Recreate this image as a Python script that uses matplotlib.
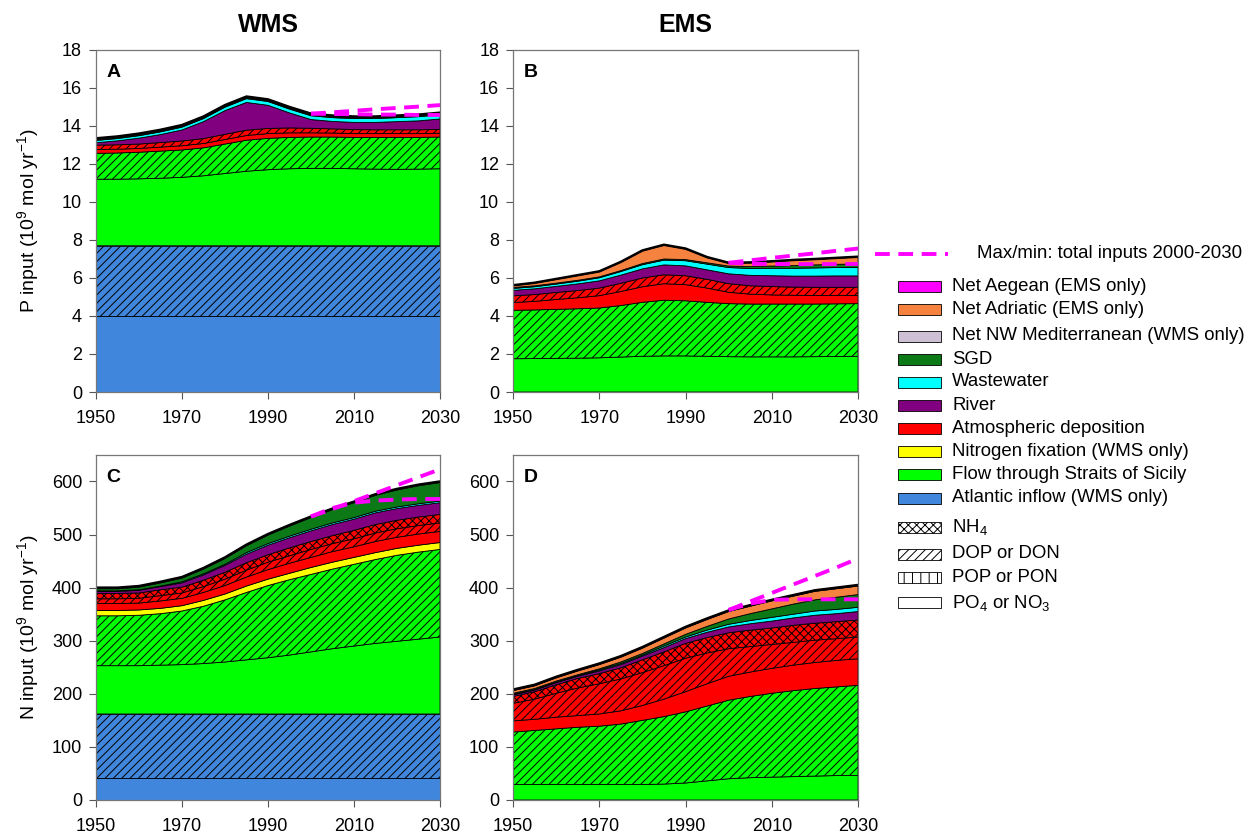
import numpy as np
import matplotlib
matplotlib.use('Agg')
import matplotlib.pyplot as plt
from matplotlib.patches import Rectangle

plt.rcParams['font.family'] = ['Liberation Sans', 'DejaVu Sans']
plt.rcParams['mathtext.fontset'] = 'custom'
plt.rcParams['mathtext.rm'] = 'Liberation Sans'
plt.rcParams['mathtext.it'] = 'Liberation Sans:italic'
plt.rcParams['hatch.linewidth'] = 0.7

years = [1950, 1955, 1960, 1965, 1970, 1975, 1980, 1985, 1990, 1995,
         2000, 2005, 2010, 2015, 2020, 2025, 2030]
proj_years = [2000, 2005, 2010, 2015, 2020, 2025, 2030]

# ---- WMS phosphorus (A), 10^9 mol/yr ----
atl_a_po4 = [4.0, 4.0, 4.0, 4.0, 4.0, 4.0, 4.0, 4.0, 4.0, 4.0, 4.0, 4.0, 4.0, 4.0, 4.0, 4.0, 4.0]
atl_a_dop = [3.7, 3.7, 3.7, 3.7, 3.7, 3.7, 3.7, 3.7, 3.7, 3.7, 3.7, 3.7, 3.7, 3.7, 3.7, 3.7, 3.7]
sic_a_po4 = [3.5, 3.5, 3.52, 3.55, 3.6, 3.68, 3.8, 3.92, 4.0, 4.05, 4.07, 4.07, 4.05, 4.03, 4.02, 4.03, 4.05]
sic_a_dop = [1.36, 1.38, 1.40, 1.43, 1.44, 1.47, 1.55, 1.63, 1.65, 1.65, 1.65, 1.65, 1.65, 1.67, 1.68, 1.67, 1.67]
atm_a_po4 = [0.2, 0.2, 0.2, 0.21, 0.22, 0.23, 0.24, 0.25, 0.25, 0.24, 0.22, 0.21, 0.2, 0.2, 0.2, 0.2, 0.2]
atm_a_dop = [0.23, 0.23, 0.23, 0.24, 0.25, 0.26, 0.27, 0.28, 0.27, 0.26, 0.24, 0.22, 0.21, 0.2, 0.2, 0.2, 0.2]
riv_a = [0.13, 0.21, 0.31, 0.42, 0.58, 0.89, 1.25, 1.46, 1.22, 0.79, 0.46, 0.39, 0.38, 0.39, 0.43, 0.47, 0.55]
ww_a = [0.12, 0.12, 0.13, 0.14, 0.15, 0.16, 0.18, 0.2, 0.2, 0.2, 0.2, 0.2, 0.2, 0.2, 0.21, 0.22, 0.22]
sgd_a = [0.05, 0.05, 0.05, 0.05, 0.05, 0.05, 0.05, 0.05, 0.05, 0.05, 0.05, 0.05, 0.05, 0.05, 0.05, 0.05, 0.05]
nwm_a = [0.06, 0.06, 0.06, 0.06, 0.06, 0.06, 0.06, 0.06, 0.06, 0.06, 0.06, 0.06, 0.06, 0.06, 0.06, 0.06, 0.06]
max_a = [14.65, 14.72, 14.8, 14.88, 14.95, 15.02, 15.1]
min_a = [14.65, 14.63, 14.62, 14.6, 14.6, 14.58, 14.58]

# ---- EMS phosphorus (B) ----
sic_b_po4 = [1.75, 1.76, 1.77, 1.78, 1.8, 1.84, 1.88, 1.9, 1.9, 1.88, 1.86, 1.85, 1.85, 1.85, 1.86, 1.87, 1.88]
sic_b_dop = [2.55, 2.56, 2.58, 2.6, 2.62, 2.71, 2.84, 2.93, 2.9, 2.84, 2.79, 2.78, 2.78, 2.78, 2.77, 2.77, 2.77]
atm_b_po4 = [0.41, 0.45, 0.52, 0.58, 0.65, 0.74, 0.82, 0.87, 0.85, 0.75, 0.6, 0.52, 0.48, 0.46, 0.45, 0.44, 0.43]
atm_b_dop = [0.35, 0.36, 0.37, 0.38, 0.4, 0.43, 0.46, 0.47, 0.47, 0.46, 0.45, 0.44, 0.44, 0.43, 0.43, 0.43, 0.43]
riv_b = [0.29, 0.3, 0.32, 0.35, 0.38, 0.43, 0.48, 0.52, 0.52, 0.5, 0.52, 0.55, 0.57, 0.58, 0.59, 0.6, 0.6]
ww_b = [0.1, 0.11, 0.12, 0.14, 0.16, 0.19, 0.22, 0.25, 0.27, 0.3, 0.33, 0.36, 0.39, 0.41, 0.43, 0.44, 0.45]
sgd_b = [0.05, 0.05, 0.05, 0.05, 0.05, 0.05, 0.06, 0.06, 0.06, 0.07, 0.08, 0.1, 0.12, 0.14, 0.16, 0.17, 0.18]
adr_b = [0.10, 0.14, 0.20, 0.25, 0.27, 0.44, 0.67, 0.73, 0.56, 0.28, 0.15, 0.20, 0.23, 0.28, 0.29, 0.32, 0.36]
aeg_b = [0.02, 0.02, 0.02, 0.02, 0.02, 0.02, 0.02, 0.02, 0.02, 0.02, 0.02, 0.02, 0.02, 0.02, 0.02, 0.02, 0.02]
max_b = [6.8, 6.93, 7.06, 7.18, 7.3, 7.43, 7.55]
min_b = [6.8, 6.75, 6.74, 6.73, 6.73, 6.73, 6.74]

# ---- WMS nitrogen (C) ----
atl_c_no3 = [42, 42, 42, 42, 42, 42, 42, 42, 42, 42, 42, 42, 42, 42, 42, 42, 42]
atl_c_don = [120, 120, 120, 120, 120, 120, 120, 120, 120, 120, 120, 120, 120, 120, 120, 120, 120]
sic_c_no3 = [91, 91, 91, 92, 93, 95, 98, 102, 106, 111, 117, 123, 128, 133, 137, 141, 145]
sic_c_don = [94, 94, 95, 97, 101, 108, 117, 127, 136, 142, 146, 150, 154, 158, 162, 164, 165]
fix_c = [10, 10, 10, 10, 10, 11, 11, 12, 12, 12, 13, 13, 13, 13, 13, 13, 13]
atm_c_no3 = [13, 13, 13, 14, 14, 15, 16, 17, 18, 19, 19, 20, 20, 21, 21, 21, 21]
atm_c_don = [9, 9, 9, 10, 10, 11, 12, 13, 14, 14, 15, 15, 15, 16, 16, 16, 16]
atm_c_nh4 = [10, 10, 10, 11, 11, 12, 13, 14, 14, 15, 15, 15, 16, 16, 16, 16, 16]
riv_c = [4, 4, 5, 6, 8, 10, 13, 16, 18, 19, 20, 21, 21, 22, 22, 22, 22]
ww_c = [1, 1, 1, 1, 2, 2, 2, 3, 3, 3, 3, 3, 3, 3, 3, 3, 3]
sgd_c = [4, 4, 5, 6, 7, 9, 11, 13, 16, 19, 22, 25, 28, 30, 32, 34, 35]
nwm_c = [2, 2, 2, 2, 2, 2, 2, 2, 2, 2, 2, 2, 2, 2, 2, 2, 2]
max_c = [534, 548, 563, 578, 593, 608, 623]
min_c = [534, 550, 560, 564, 566, 567, 567]

# ---- EMS nitrogen (D) ----
sic_d_no3 = [29, 29, 29, 29, 29, 29, 29, 30, 32, 36, 40, 42, 43, 44, 45, 46, 46]
sic_d_don = [99, 102, 105, 108, 110, 114, 121, 127, 134, 141, 148, 153, 158, 162, 165, 167, 170]
atm_d_no3 = [21, 21, 22, 22, 23, 25, 28, 33, 38, 42, 45, 46, 47, 48, 49, 50, 50]
atm_d_don = [33, 38, 45, 52, 57, 60, 62, 63, 63, 58, 52, 48, 45, 43, 42, 41, 41]
atm_d_nh4 = [13, 14, 16, 18, 19, 21, 24, 26, 28, 29, 30, 31, 31, 32, 32, 32, 32]
riv_d = [3, 3, 4, 4, 5, 6, 7, 8, 9, 10, 11, 12, 13, 14, 15, 15, 16]
ww_d = [1, 1, 1, 1, 2, 2, 2, 3, 3, 4, 5, 6, 7, 7, 8, 8, 8]
sgd_d = [2, 2, 2, 2, 2, 3, 3, 4, 5, 7, 10, 13, 16, 19, 21, 23, 24]
adr_d = [5, 5, 6, 7, 8, 9, 10, 11, 12, 13, 14, 14, 15, 15, 16, 16, 16]
aeg_d = [2, 2, 2, 2, 2, 2, 2, 2, 2, 2, 2, 2, 2, 2, 2, 2, 2]
max_d = [358, 374, 390, 406, 422, 438, 455]
min_d = [358, 370, 377, 378, 378, 378, 378]

# colours of the sources
c_aeg = '#FF00FF'
c_adr = '#F5823F'
c_nwm = '#CDBFD4'
c_sgd = '#0B7A16'
c_ww = '#00FFFF'
c_riv = '#800080'
c_atm = '#FF0000'
c_fix = '#FFFF00'
c_sic = '#00FF00'
c_atl = '#3F86DC'

# hatches: plain = PO4/NO3, '////' = DOP/DON, 'xxxx' = NH4
layers_a = [(atl_a_po4, c_atl, ''), (atl_a_dop, c_atl, '////'),
            (sic_a_po4, c_sic, ''), (sic_a_dop, c_sic, '////'),
            (atm_a_po4, c_atm, ''), (atm_a_dop, c_atm, '////'),
            (riv_a, c_riv, ''), (ww_a, c_ww, ''), (sgd_a, c_sgd, ''), (nwm_a, c_nwm, '')]
layers_b = [(sic_b_po4, c_sic, ''), (sic_b_dop, c_sic, '////'),
            (atm_b_po4, c_atm, ''), (atm_b_dop, c_atm, '////'),
            (riv_b, c_riv, ''), (ww_b, c_ww, ''), (sgd_b, c_sgd, ''),
            (adr_b, c_adr, ''), (aeg_b, c_aeg, '')]
layers_c = [(atl_c_no3, c_atl, ''), (atl_c_don, c_atl, '////'),
            (sic_c_no3, c_sic, ''), (sic_c_don, c_sic, '////'), (fix_c, c_fix, ''),
            (atm_c_no3, c_atm, ''), (atm_c_don, c_atm, '////'), (atm_c_nh4, c_atm, 'xxxx'),
            (riv_c, c_riv, ''), (ww_c, c_ww, ''), (sgd_c, c_sgd, ''), (nwm_c, c_nwm, '')]
layers_d = [(sic_d_no3, c_sic, ''), (sic_d_don, c_sic, '////'),
            (atm_d_no3, c_atm, ''), (atm_d_don, c_atm, '////'), (atm_d_nh4, c_atm, 'xxxx'),
            (riv_d, c_riv, ''), (ww_d, c_ww, ''), (sgd_d, c_sgd, ''),
            (adr_d, c_adr, ''), (aeg_d, c_aeg, '')]


def draw_stack(ax, layers, mx, mn):
    base = np.zeros(len(years))
    for vals, color, hatch in layers:
        top = base + np.array(vals)
        ax.fill_between(years, base, top, facecolor=color, edgecolor='black',
                        hatch=hatch, linewidth=0.6)
        base = top
    ax.plot(years, base, color='black', lw=1.8)
    ax.plot(proj_years, mx, color='#FF00FF', lw=2.8, dashes=(3.8, 2.2))
    ax.plot(proj_years, mn, color='#FF00FF', lw=2.8, dashes=(3.8, 2.2))


def style(ax, ymax, yticks, letter):
    ax.set_xlim(1950, 2030)
    ax.set_ylim(0, ymax)
    ax.set_xticks([1950, 1970, 1990, 2010, 2030])
    ax.set_yticks(yticks)
    ax.tick_params(direction='out', length=5, width=0.8, color='#555555', labelsize=13)
    ax.tick_params(axis='x', pad=8)
    ax.tick_params(axis='y', pad=5)
    for s in ax.spines.values():
        s.set_color('#777777')
        s.set_linewidth(0.9)
    ax.text(0.03, 0.958, letter, transform=ax.transAxes, fontsize=14,
            fontweight='bold', va='top', ha='left')


fig = plt.figure(figsize=(12.55, 8.36), dpi=100)
ax_a = fig.add_axes([0.0765, 0.5311, 0.2741, 0.4091])
ax_b = fig.add_axes([0.4088, 0.5311, 0.2749, 0.4091])
ax_c = fig.add_axes([0.0765, 0.0431, 0.2741, 0.4127])
ax_d = fig.add_axes([0.4088, 0.0431, 0.2749, 0.4127])

draw_stack(ax_a, layers_a, max_a, min_a)
draw_stack(ax_b, layers_b, max_b, min_b)
draw_stack(ax_c, layers_c, max_c, min_c)
draw_stack(ax_d, layers_d, max_d, min_d)

style(ax_a, 18, range(0, 19, 2), 'A')
style(ax_b, 18, range(0, 19, 2), 'B')
style(ax_c, 650, range(0, 601, 100), 'C')
style(ax_d, 650, range(0, 601, 100), 'D')

ax_a.set_ylabel('P input (10$^9$ mol yr$^{-1}$)', fontsize=14)
ax_c.set_ylabel('N input (10$^9$ mol yr$^{-1}$)', fontsize=14)
ax_a.yaxis.set_label_coords(-0.16, 0.5)
ax_c.yaxis.set_label_coords(-0.16, 0.5)

fig.text(268 / 1255, 1 - 25 / 836, 'WMS', ha='center', va='center', fontsize=18, fontweight='bold')
fig.text(685 / 1255, 1 - 25 / 836, 'EMS', ha='center', va='center', fontsize=18, fontweight='bold')

# legend drawn by hand in pixel coordinates
lax = fig.add_axes([0, 0, 1, 1])
lax.set_xlim(0, 1255)
lax.set_ylim(836, 0)
lax.axis('off')

lax.plot([875, 948], [254, 254], color='#FF00FF', lw=2.8, dashes=(3.8, 2.2))
lax.text(977, 254, 'Max/min: total inputs 2000-2030', fontsize=13.4, va='center')

leg_labels = ['Net Aegean (EMS only)', 'Net Adriatic (EMS only)', 'Net NW Mediterranean (WMS only)',
              'SGD', 'Wastewater', 'River', 'Atmospheric deposition', 'Nitrogen fixation (WMS only)',
              'Flow through Straits of Sicily', 'Atlantic inflow (WMS only)',
              'NH$_4$', 'DOP or DON', 'POP or PON', 'PO$_4$ or NO$_3$']
leg_colors = [c_aeg, c_adr, c_nwm, c_sgd, c_ww, c_riv, c_atm, c_fix, c_sic, c_atl,
              'white', 'white', 'white', 'white']
leg_hatch = ['', '', '', '', '', '', '', '', '', '', 'xxxx', '////', '||', '']
leg_y = [286.7, 309, 336, 359.3, 382, 405.7, 428.7, 451.7, 474.7, 498, 527.3, 554, 577.3, 602.7]

for lab, col, h, yy in zip(leg_labels, leg_colors, leg_hatch, leg_y):
    lax.add_patch(Rectangle((898, yy - 5.5), 43, 11, facecolor=col, edgecolor='black',
                            hatch=h, linewidth=0.6))
    lax.text(952, yy, lab, fontsize=13.4, va='center')

fig.savefig('out.png', dpi=100)
